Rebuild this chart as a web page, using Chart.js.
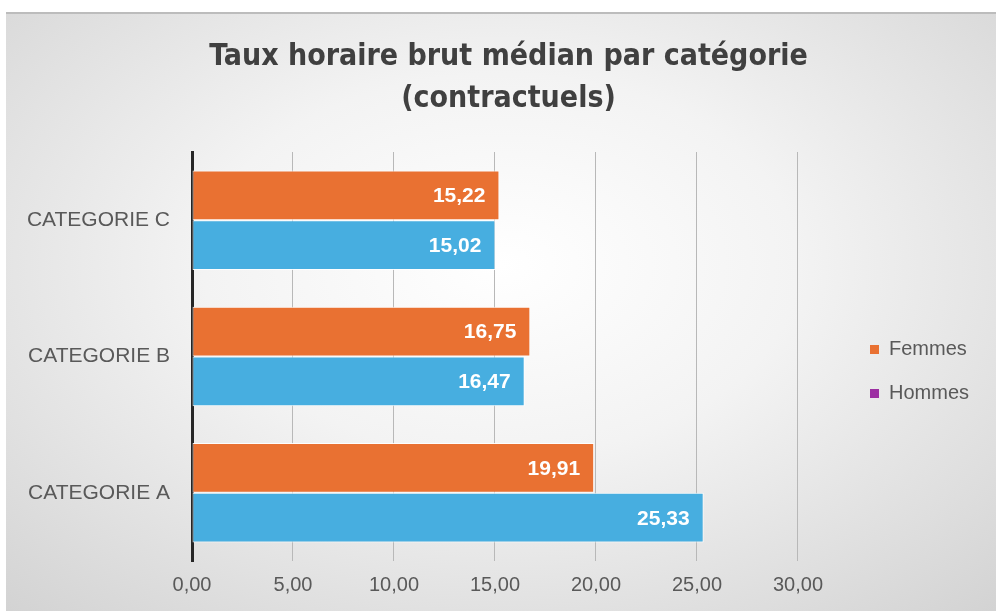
<!DOCTYPE html>
<html>
<head>
<meta charset="utf-8">
<script src="https://cdn.jsdelivr.net/npm/chart.js@4/dist/chart.umd.min.js"></script>
<style>
  html, body { margin: 0; padding: 0; background: #fff; }
  #box {
    position: absolute; left: 6px; top: 12px; width: 990px; height: 599px;
    box-sizing: border-box; border-top: 2px solid #bcbcbc;
    background: radial-gradient(ellipse 75% 80% at 50% 42%, #ffffff 0%, #f3f3f3 40%, #d2d2d2 100%);
  }
  canvas { display: block; }
</style>
</head>
<body>
<div id="box"><canvas id="chart" width="990" height="597"></canvas></div>
<script>
const categories = ["CATEGORIE C", "CATEGORIE B", "CATEGORIE A"];
const femmes = [15.22, 16.75, 19.91];
const hommes = [15.02, 16.47, 25.33];
const seriesNames = ["Femmes", "Hommes"];
const xMin = 0, xMax = 30, xStep = 5;

const ORANGE = "#E97132";
const BLUE = "#47AEE0";
const PURPLE = "#9C2FA2"; // legend marker for Hommes, as in the original
const TEXT = "#595959";
const FONT = "'Liberation Sans', Arial, sans-serif";

const frNum = (v) => Number(v).toFixed(2).replace(".", ",");

// white value labels at the inner end of each bar
const barLabels = {
  id: "barLabels",
  afterDatasetsDraw(chart) {
    const ctx = chart.ctx;
    ctx.save();
    ctx.font = "bold 21px " + FONT;
    ctx.fillStyle = "#ffffff";
    ctx.textAlign = "right";
    ctx.textBaseline = "middle";
    chart.data.datasets.forEach((ds, i) => {
      chart.getDatasetMeta(i).data.forEach((bar, j) => {
        ctx.fillText(frNum(ds.data[j]), bar.x - 14, bar.y + 1);
      });
    });
    ctx.restore();
  },
};

// move the legend away from the plot and center the title on the whole box
const layoutShift = {
  id: "layoutShift",
  afterLayout(chart) {
    const lg = chart.legend;
    lg.left += 48; lg.right += 48;
    lg.top += 59; lg.bottom += 59;
    const tb = chart.titleBlock;
    tb.left += 40; tb.right += 40;
  },
};

new Chart(document.getElementById("chart"), {
  type: "bar",
  data: {
    labels: categories,
    datasets: [
      { label: seriesNames[0], data: femmes, backgroundColor: ORANGE },
      { label: seriesNames[1], data: hommes, backgroundColor: BLUE },
    ],
  },
  options: {
    indexAxis: "y",
    responsive: false,
    animation: false,
    layout: { padding: { left: 0, right: 65, top: 0, bottom: 0 } },
    datasets: {
      bar: {
        categoryPercentage: 0.73,
        barPercentage: 1,
        borderColor: "rgba(255,255,255,0.9)",
        borderWidth: 1,
        borderSkipped: false,
      },
    },
    scales: {
      x: {
        min: xMin,
        max: xMax,
        ticks: {
          stepSize: xStep,
          padding: 12,
          color: TEXT,
          font: { family: FONT, size: 20 },
          callback: (v) => frNum(v),
        },
        grid: { color: "#b8b8b8", lineWidth: 1, drawTicks: false },
        border: { display: false },
        afterFit: (s) => { s.height = 50; },
      },
      y: {
        ticks: {
          padding: 22,
          color: TEXT,
          font: { family: FONT, size: 21 },
        },
        grid: { display: false, drawTicks: false },
        border: { display: true, color: "#262626", width: 3 },
        afterFit: (s) => { s.width = 186; },
      },
    },
    plugins: {
      title: {
        display: true,
        text: ["Taux horaire brut médian par catégorie", "(contractuels)"],
        color: "#404040",
        font: { family: "'Liberation Sans Narrow', 'DejaVu Sans Condensed', sans-serif", size: 30, weight: "bold", lineHeight: 1.4 },
        padding: { top: 22, bottom: 32 },
      },
      legend: {
        position: "right",
        labels: {
          boxWidth: 9,
          boxHeight: 9,
          padding: 24,
          color: TEXT,
          font: { family: FONT, size: 20 },
          generateLabels: (chart) => {
            const items = Chart.defaults.plugins.legend.labels.generateLabels(chart);
            items.forEach((it, i) => {
              it.fillStyle = i === 1 ? PURPLE : ORANGE;
              it.strokeStyle = "rgba(0,0,0,0)";
              it.lineWidth = 0;
            });
            return items;
          },
        },
      },
      tooltip: { enabled: false },
    },
  },
  plugins: [barLabels, layoutShift],
});
</script>
</body>
</html>
